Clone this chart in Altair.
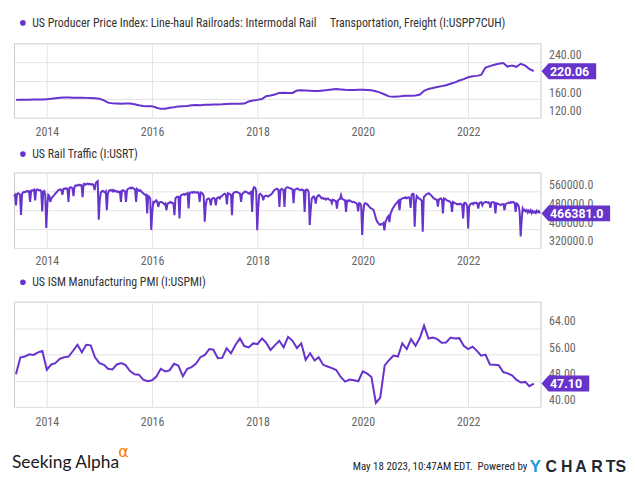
import altair as alt
import pandas as pd

PURPLE = "#6633cc"
FONT = "Liberation Sans Narrow, Arial Narrow, Roboto Condensed, Roboto, sans-serif"
BADGE_FONT = "Roboto, Liberation Sans, sans-serif"
LOGO_FONT = "Liberation Sans, Arial, sans-serif"

# ---------------- titles / labels ----------------
ppi_title = ("US Producer Price Index: Line-haul Railroads: Intermodal Rail"
             + "\u00a0" * 4 + " Transportation, Freight (I:USPP7CUH)")
rail_title = "US Rail Traffic (I:USRT)"
pmi_title = "US ISM Manufacturing PMI (I:USPMI)"
year_ticks = [2014, 2016, 2018, 2020, 2022]
footer_date = "May 18 2023, 10:47AM EDT.\u00a0 Powered by"
brand_letters = ["C", "H", "A", "R", "T", "S"]

# ---------------- PPI (monthly, from Jun 2013) ----------------
ppi_start = "2013-06-01"
ppi_2013 = [158.5, 158.8, 159.0, 159.0, 159.2, 159.3, 159.4]
ppi_2014 = [159.6, 160.8, 162.0, 163.0, 163.4, 163.4, 163.3, 163.2, 163.0, 162.8, 162.5, 162.0]
ppi_2015 = [161.0, 157.5, 152.5, 151.0, 150.5, 150.0, 150.6, 150.8, 149.0, 147.0, 145.5, 145.0]
ppi_2016 = [145.0, 141.5, 139.2, 139.5, 141.5, 142.5, 144.5, 145.0, 145.5, 147.0, 147.5, 147.2]
ppi_2017 = [148.0, 148.2, 148.4, 148.8, 149.0, 149.5, 150.0, 150.3, 150.2, 150.5, 155.0, 157.0]
ppi_2018 = [158.5, 160.5, 166.5, 168.0, 170.0, 173.5, 174.0, 173.5, 173.5, 178.5, 179.0, 178.5]
ppi_2019 = [178.0, 177.5, 177.5, 178.5, 179.5, 181.0, 182.0, 181.0, 180.0, 179.5, 179.5, 180.0]
ppi_2020 = [180.0, 179.5, 179.0, 177.0, 174.0, 170.0, 166.0, 165.0, 165.5, 167.0, 167.5, 167.5]
ppi_2021 = [168.0, 170.0, 178.0, 182.0, 184.0, 186.0, 188.0, 190.0, 193.0, 196.0, 200.0, 203.0]
ppi_2022 = [207.0, 209.0, 210.0, 212.0, 228.0, 231.0, 234.0, 236.0, 237.5, 230.0, 232.0, 229.5]
ppi_2023 = [236.0, 232.0, 225.0, 220.06]

# ---------------- Rail traffic (weekly, thousands of carloads, from 2013-05-18) ----------------
rail_start = "2013-05-18"
rail_2013 = [540, 545, 500, 548, 552, 550, 545, 460, 548, 555, 558, 556, 560, 562, 558, 560, 515,
             562, 565, 563, 566, 522, 565, 568, 566, 564, 565, 560, 475, 560, 562, 545, 405]
rail_2014 = [500, 545, 540, 515, 530, 535, 540, 545, 550, 555, 560, 565, 567, 568, 565, 545, 570,
             572, 570, 573, 570, 515, 575, 578, 576, 572, 540, 580, 585, 583, 586, 588, 585, 587,
             584, 535, 590, 592, 588, 590, 593, 590, 592, 590, 588, 590, 585, 565, 595, 600, 603, 440]
rail_2015 = [520, 555, 560, 562, 558, 555, 560, 480, 550, 562, 565, 563, 566, 560, 565, 560, 562,
             558, 560, 556, 558, 515, 563, 565, 562, 560, 515, 565, 570, 572, 575, 572, 576, 574,
             570, 568, 515, 570, 566, 562, 565, 560, 556, 552, 548, 545, 546, 466, 540, 536, 530, 396]
rail_2016 = [470, 515, 512, 518, 522, 515, 494, 512, 515, 515, 512, 510, 505, 508, 480, 505, 510,
             512, 515, 510, 512, 508, 459, 530, 535, 538, 536, 445, 540, 545, 546, 548, 545, 550,
             548, 552, 487, 552, 555, 556, 554, 558, 555, 556, 554, 556, 552, 515, 555, 553, 550, 540, 431]
rail_2017 = [500, 525, 528, 530, 525, 501, 528, 530, 532, 528, 501, 530, 533, 535, 530, 538, 540,
             545, 548, 550, 545, 505, 552, 550, 548, 545, 459, 550, 555, 557, 556, 558, 555, 552,
             550, 515, 548, 552, 556, 560, 558, 556, 552, 550, 555, 558, 473, 570, 578, 575, 560, 395]
rail_2018 = [490, 545, 550, 545, 540, 522, 538, 540, 542, 540, 538, 542, 545, 548, 552, 560, 565,
             568, 571, 570, 566, 494, 565, 570, 568, 565, 494, 572, 575, 578, 576, 574, 572, 570,
             568, 510, 566, 568, 570, 572, 568, 566, 565, 568, 566, 563, 473, 565, 568, 566, 555, 417]
rail_2019 = [480, 529, 535, 538, 530, 508, 535, 540, 544, 540, 535, 530, 532, 528, 530, 525, 528,
             530, 526, 524, 522, 510, 525, 523, 520, 518, 487, 522, 525, 528, 544, 528, 526, 524,
             522, 473, 520, 518, 522, 520, 518, 515, 516, 514, 512, 510, 505, 475, 510, 508, 500, 375]
rail_2020 = [470, 505, 510, 508, 505, 500, 495, 490, 488, 485, 482, 470, 455, 440, 430, 425, 420,
             418, 422, 420, 425, 395, 430, 440, 450, 455, 430, 465, 475, 485, 492, 500, 505, 510,
             515, 520, 480, 525, 528, 530, 532, 532, 535, 530, 533, 535, 532, 490, 545, 550, 548, 410]
rail_2021 = [510, 540, 535, 530, 528, 525, 520, 389, 535, 540, 545, 548, 550, 552, 548, 545, 540,
             535, 530, 528, 525, 524, 495, 525, 528, 530, 525, 466, 530, 528, 525, 522, 520, 518,
             516, 512, 473, 515, 512, 510, 508, 505, 506, 505, 508, 506, 504, 445, 510, 512, 508, 498]
rail_2022 = [403, 495, 505, 508, 510, 505, 512, 510, 512, 508, 487, 510, 512, 514, 501, 510, 512,
             515, 515, 512, 514, 510, 490, 512, 515, 514, 512, 466, 510, 508, 506, 505, 502, 504,
             506, 505, 480, 506, 508, 510, 512, 510, 514, 512, 515, 514, 510, 473, 508, 505, 498, 470, 369]
rail_2023 = [440, 487, 478, 482, 475, 480, 470, 478, 472, 480, 468, 476, 470, 474, 468, 478, 472,
             476, 466.381]

# ---------------- ISM PMI (monthly, from Jun 2013) ----------------
pmi_start = "2013-06-01"
pmi_2013 = [49.9, 55.0, 55.3, 56.0, 55.8, 56.6, 57.0]
pmi_2014 = [51.3, 52.9, 53.3, 54.6, 55.1, 55.3, 57.0, 58.9, 56.6, 58.9, 58.7, 55.1]
pmi_2015 = [53.3, 52.8, 51.6, 51.4, 52.9, 53.3, 52.7, 50.9, 49.9, 49.8, 48.3, 47.8]
pmi_2016 = [48.1, 49.3, 51.6, 50.8, 51.1, 53.1, 52.6, 49.3, 51.6, 52.1, 53.2, 55.1]
pmi_2017 = [55.8, 57.6, 57.4, 54.8, 54.9, 57.8, 56.3, 58.8, 60.8, 58.5, 58.1, 59.3]
pmi_2018 = [59.1, 60.8, 59.6, 57.3, 58.7, 60.1, 58.1, 61.3, 60.1, 57.9, 59.3, 54.3]
pmi_2019 = [56.3, 54.1, 55.1, 52.8, 52.3, 51.8, 51.2, 49.1, 47.7, 48.3, 48.1, 47.8]
pmi_2020 = [50.8, 50.1, 49.1, 41.2, 42.8, 52.6, 54.2, 55.6, 55.3, 59.3, 57.6, 60.6]
pmi_2021 = [58.6, 61.1, 64.7, 60.8, 61.1, 60.6, 59.5, 59.6, 61.1, 60.8, 60.9, 58.6]
pmi_2022 = [57.6, 58.3, 57.1, 55.6, 55.9, 52.9, 52.8, 52.7, 50.6, 50.2, 49.6, 48.3]
pmi_2023 = [47.4, 47.6, 46.3, 47.1]

# ---------------- build tables ----------------
ppi_vals = ppi_2013 + ppi_2014 + ppi_2015 + ppi_2016 + ppi_2017 + ppi_2018 + ppi_2019 + ppi_2020 + ppi_2021 + ppi_2022 + ppi_2023
rail_k = rail_2013 + rail_2014 + rail_2015 + rail_2016 + rail_2017 + rail_2018 + rail_2019 + rail_2020 + rail_2021 + rail_2022 + rail_2023
pmi_vals = pmi_2013 + pmi_2014 + pmi_2015 + pmi_2016 + pmi_2017 + pmi_2018 + pmi_2019 + pmi_2020 + pmi_2021 + pmi_2022 + pmi_2023

ppi_df = pd.DataFrame({"date": pd.date_range(ppi_start, periods=len(ppi_vals), freq="MS"), "value": ppi_vals})
rail_df = pd.DataFrame({"date": pd.date_range(rail_start, periods=len(rail_k), freq="7D"),
                        "value": [round(v * 1000, 1) for v in rail_k]})
pmi_df = pd.DataFrame({"date": pd.date_range(pmi_start, periods=len(pmi_vals), freq="MS"), "value": pmi_vals})

END = pd.Timestamp("2023-05-18")
XDOM = [alt.DateTime(year=2013, month=5, date=18), alt.DateTime(year=2023, month=5, date=18)]
W = 530


def panel(df, title, ydom, yticks, fmt, height, badge_label, badge_right, title_y,
          xpad=7, hide=None, extra=None):
    x_enc = alt.X("date:T", title=None, scale=alt.Scale(domain=XDOM),
                  axis=alt.Axis(values=[alt.DateTime(year=y, month=1, date=1) for y in year_ticks],
                                format="%Y", grid=True, ticks=False, domain=False, labelPadding=xpad,
                                labelFontSize=12, labelFont=FONT, labelColor="#666666",
                                gridColor="#e4e4e4", labelFlush=False, labelOverlap=False))
    yaxis = dict(orient="right", values=yticks, format=fmt, grid=True, ticks=False,
                 domain=False, labelPadding=8, labelAlign="left", labelBaseline="bottom",
                 labelFontSize=12, labelFont=FONT, labelColor="#666666",
                 gridColor="#e4e4e4", labelFlush=False, labelOverlap=False)
    if hide is not None:
        yaxis["labelExpr"] = f"datum.value == {hide} ? '' : datum.label"
    y_enc = alt.Y("value:Q", title=None, scale=alt.Scale(domain=ydom, nice=False, zero=False),
                  axis=alt.Axis(**yaxis))
    line = alt.Chart(df).mark_line(color=PURPLE, strokeWidth=2).encode(x=x_enc, y=y_enc)
    bdf = pd.DataFrame({"date": [END], "value": [df["value"].iloc[-1]], "label": [badge_label]})
    r = badge_right / 10.0
    path = f"M0.1,0 L0.8,-0.8 L{r},-0.8 L{r},0.8 L0.8,0.8 Z"
    badge = alt.Chart(bdf).mark_point(shape=path, size=400, filled=True, opacity=1,
                                      color=PURPLE, strokeWidth=0).encode(x=x_enc, y=y_enc)
    btxt = alt.Chart(bdf).mark_text(align="left", baseline="middle", dx=9.5, dy=0.5, color="white",
                                    fontWeight="bold", fontSize=12.5, font=BADGE_FONT).encode(
        x=x_enc, y=y_enc, text="label:N")
    tdf = pd.DataFrame({"t": [title]})
    dot = alt.Chart(tdf).mark_point(filled=True, size=32, color=PURPLE, opacity=1).encode(
        x=alt.value(9), y=alt.value(title_y))
    ttl = alt.Chart(tdf).mark_text(align="left", baseline="middle", fontSize=12, font=FONT,
                                   color="#333333").encode(x=alt.value(18.3), y=alt.value(title_y), text="t:N")
    layers = [line, badge, btxt, dot, ttl] + (extra or [])
    return alt.layer(*layers).properties(width=W, height=height)


def ftext(txt, x, y, size, color, font, weight="normal", align="left"):
    return alt.Chart(pd.DataFrame({"t": [txt]})).mark_text(
        align=align, baseline="alphabetic", fontSize=size, font=font, fontWeight=weight, color=color
    ).encode(x=alt.value(x), y=alt.value(y), text="t:N")


letter_x = [535, 550.5, 565, 581, 595.5, 605.5]
footer = [
    ftext("Seeking Alpha", -2, 167.5, 17.5, "#1a1a1a", "Lato, Open Sans, sans-serif"),
    ftext("\u03b1", 105, 156.5, 16, "#ff7a00", "DejaVu Sans, sans-serif"),
    ftext(footer_date, 516.7, 169.2, 11, "#222222", FONT, align="right"),
    ftext("Y", 519, 171, 17, "#1a9ad6", LOGO_FONT, weight="bold"),
] + [ftext(ch, lx, 171, 16, "#1e2732", LOGO_FONT, weight="bold") for ch, lx in zip(brand_letters, letter_x)]

p1 = panel(ppi_df, ppi_title, [120, 280], [120, 160, 200, 240], ".2f", 75,
           f"{ppi_vals[-1]:.2f}", 56, -20.5, xpad=9.3, hide=200)
p2 = panel(rail_df, rail_title, [320000, 640000], [320000, 400000, 480000, 560000], ".1f", 76,
           f"{rail_k[-1] * 1000:.1f}", 70, -18.5, xpad=7.5)
p3 = panel(pmi_df, pmi_title, [40, 72], [40, 48, 56, 64], ".2f", 106,
           f"{pmi_vals[-1]:.2f}", 49, -19.5, xpad=9.5, extra=footer)

chart = alt.vconcat(p1, p2, p3, spacing=9).properties(
    padding={"left": 1, "top": 7, "right": 0, "bottom": 0}, background="white"
).configure_view(stroke="#cccccc", strokeWidth=1)

chart.save("out.html", embed_options={"renderer": "svg", "actions": False})
